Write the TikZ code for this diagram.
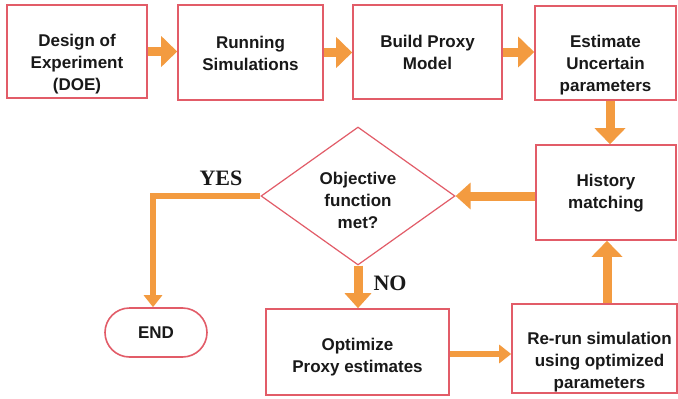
\documentclass[tikz,border=0pt]{standalone}
\usepackage{fontspec}
\setmainfont{Liberation Sans}
\newfontfamily\yesnofont{Liberation Serif}
\usetikzlibrary{arrows.meta,shapes.geometric,shapes.misc}
\definecolor{boxred}{RGB}{226,92,104}
\definecolor{flowor}{RGB}{243,155,64}
\tikzset{
  box/.style={draw=boxred, line width=1.6pt, fill=white, inner sep=0pt},
  txt/.style={align=center, font=\fontsize{17}{22}\selectfont\bfseries, text=black!90},
  yn/.style={font=\yesnofont\fontsize{22}{24}\selectfont\bfseries, text=black!90},
  bigflow/.style={draw=flowor, line width=9pt, -{Triangle[width=30pt,length=16pt]}},
  medflow/.style={draw=flowor, line width=9pt, -{Triangle[width=26pt,length=15pt]}},
  thinflow/.style={draw=flowor, line width=5.5pt, -{Triangle[width=18pt,length=12pt]}},
}
\begin{document}
\begin{tikzpicture}[x=1pt,y=-1pt]
\useasboundingbox (0,0) rectangle (678,399);
\fill[white] (0,0) rectangle (678,399);
% top row
\node[box, minimum width=140, minimum height=93,
  label={[txt, yshift=-13]center:Design of\\Experiment\\(DOE)}] (doe) at (77,51.5) {};
\node[box, minimum width=145, minimum height=95,
  label={[txt, yshift=-0.5]center:Running\\Simulations}] (run) at (250.5,52.5) {};
\node[box, minimum width=149, minimum height=94,
  label={[txt]center:Build Proxy\\Model}] (proxy) at (427.5,52) {};
\node[box, minimum width=141, minimum height=94,
  label={[txt, yshift=-12]center:Estimate\\Uncertain\\parameters}] (est) at (605.5,53) {};
% middle
\node[box, minimum width=140, minimum height=95,
  label={[txt, yshift=-1]center:History\\matching}] (hist) at (606,192.5) {};
\node[draw=boxred, line width=1.2pt, fill=white, diamond, aspect=1.4, inner sep=0pt,
  minimum width=194, minimum height=138,
  label={[txt, yshift=-4]center:Objective\\function\\met?}] (dia) at (358,196) {};
% bottom
\node[draw=boxred, line width=1.6pt, fill=white, rounded rectangle, inner sep=0pt,
  minimum width=102, minimum height=49, txt] (endn) at (156,332.5) {END};
\node[box, minimum width=183, minimum height=86,
  label={[txt, yshift=-5]center:Optimize\\Proxy estimates}] (opt) at (357.5,352) {};
\node[box, minimum width=165, minimum height=89,
  label={[txt, yshift=-13.5, xshift=5]center:Re-run simulation\\using optimized\\parameters}] (rerun) at (594.5,348.5) {};
% labels
\node[yn] (yes) at (221,178) {YES};
\node[yn] (no) at (390,283) {NO};
% connectors
\draw[bigflow] (doe.east) -- (doe.east -| run.west);
\draw[bigflow] (run.east) -- (run.east -| proxy.west);
\draw[bigflow] (proxy.east) -- (proxy.east -| est.west);
\draw[bigflow] ([xshift=4.5]est.south) -- ([xshift=4.5]est.south |- hist.north);
\draw[medflow] (hist.west |- dia.east) -- (dia.east);
\draw[thinflow, rounded corners=0] (dia.west) -| ([xshift=-3]endn.north);
\draw[medflow] (dia.south) -- (dia.south |- opt.north);
\draw[thinflow] (opt.east |- 0,354) -- (rerun.west |- 0,354);
\draw[bigflow] ([xshift=12.5]rerun.north) -- ([xshift=12.5]rerun.north |- hist.south);
\end{tikzpicture}
\end{document}
